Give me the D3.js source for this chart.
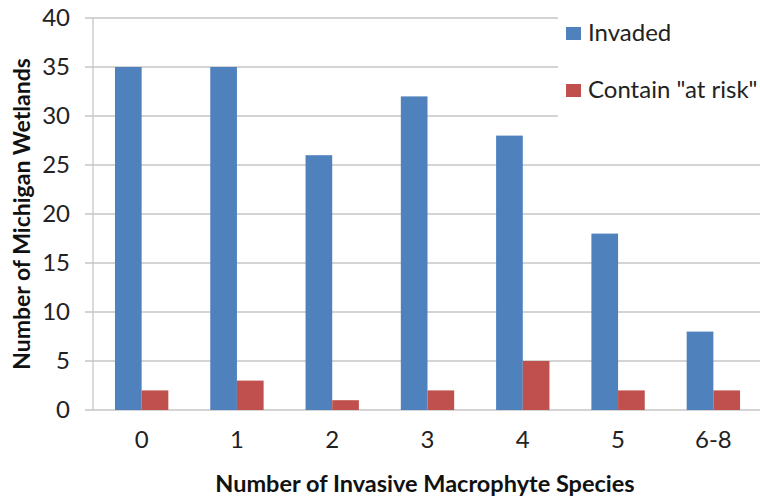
<!DOCTYPE html>
<html><head><meta charset="utf-8">
<script src="https://cdn.jsdelivr.net/npm/d3@7"></script>
<style>body{margin:0;background:#fff}svg{display:block}text{font-family:Lato,"Open Sans",sans-serif}</style>
</head><body>
<svg id="c" width="760" height="499"></svg>
<script>
const categories = ["0","1","2","3","4","5","6-8"];
const invaded = [35,35,26,32,28,18,8];
const atRisk = [2,3,1,2,5,2,2];
const seriesNames = ["Invaded","Contain \"at risk\""];
const seriesColors = ["#4F81BD","#C0504D"];
const yTicks = [0,5,10,15,20,25,30,35,40];

const svg = d3.select("#c");
const x0 = 94, x1 = 761, yTop = 18, yBot = 410;
const x = d3.scaleBand().domain(categories).range([x0,x1]).paddingInner(0.44).paddingOuter(0.22);
const xs = d3.scaleBand().domain([0,1]).range([0,x.bandwidth()]);
const y = d3.scaleLinear().domain([0,40]).range([yBot,yTop]);

// gridlines
const g = svg.append("g");
g.selectAll("line.grid").data(yTicks).join("line")
  .attr("x1",85).attr("x2",760).attr("y1",d=>y(d)).attr("y2",d=>y(d))
  .attr("stroke","#c6c6c6").attr("stroke-width",1.3);
// left axis line
svg.append("line").attr("x1",93).attr("x2",93).attr("y1",y(40)).attr("y2",y(0))
  .attr("stroke","#c6c6c6").attr("stroke-width",1.3);

// bars
const data = categories.map((c,i)=>({c, v:[invaded[i],atRisk[i]]}));
const grp = svg.append("g").selectAll("g").data(data).join("g")
  .attr("transform",d=>`translate(${x(d.c)},0)`);
grp.selectAll("rect").data(d=>d.v.map((v,k)=>({v,k}))).join("rect")
  .attr("x",d=>xs(d.k)).attr("width",xs.bandwidth())
  .attr("y",d=>y(d.v)).attr("height",d=>y(0)-y(d.v))
  .attr("fill",d=>seriesColors[d.k]);

// y axis labels
const yAxis = d3.axisLeft(y).tickValues(yTicks).tickSize(0).tickPadding(0);
const ya = svg.append("g").attr("transform","translate(70,0)").call(yAxis);
ya.select(".domain").remove();
ya.selectAll("text").attr("font-size",24).attr("fill","#222").attr("font-family","Lato,'Open Sans',sans-serif");

// x axis labels
const xAxis = d3.axisBottom(x).tickSize(0).tickPadding(0);
const xa = svg.append("g").attr("transform","translate(0,431)").call(xAxis);
xa.select(".domain").remove();
xa.selectAll("text").attr("font-size",24).attr("fill","#222").attr("font-family","Lato,'Open Sans',sans-serif");

// titles
svg.append("text").attr("x",425).attr("y",492).attr("text-anchor","middle")
  .attr("font-size",23.5).attr("font-weight","bold").attr("fill","#111")
  .text("Number of Invasive Macrophyte Species");
svg.append("text").attr("transform","translate(30,214) rotate(-90)").attr("text-anchor","middle")
  .attr("font-size",23).attr("font-weight","bold").attr("fill","#111")
  .text("Number of Michigan Wetlands");

// legend
svg.append("rect").attr("x",558).attr("y",0).attr("width",202).attr("height",132).attr("fill","#fff");
const lg = svg.append("g").selectAll("g").data(seriesNames).join("g")
  .attr("transform",(d,i)=>`translate(566,${33+i*57})`);
lg.append("rect").attr("x",0).attr("y",-6).attr("width",15).attr("height",13).attr("fill",(d,i)=>seriesColors[i]);
lg.append("text").attr("x",22).attr("y",8).attr("font-size",24).attr("fill","#222").text(d=>d);
</script>
</body></html>
